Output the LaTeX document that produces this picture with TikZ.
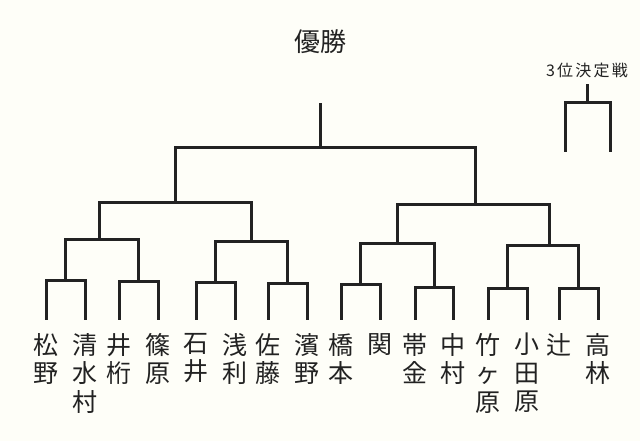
\documentclass[tikz,border=0pt]{standalone}
\usepackage{fontspec}
\setmainfont{Noto Sans CJK JP}
\usepackage{xcolor}
\usepackage{tikz}
\usetikzlibrary{positioning}
\definecolor{paper}{RGB}{254, 254, 248}
\definecolor{ink}{RGB}{34, 34, 34}

\begin{document}
\begin{tikzpicture}[
        x=1pt, y=-1pt,
        bar/.style={draw=ink, line width=3pt, line cap=rect},
        player/.style={anchor=north, inner sep=0pt, align=center, text=ink,
                       font=\fontsize{25}{28.5}\selectfont},
        title/.style={inner sep=0pt, text=ink, font=\fontsize{26}{30}\selectfont},
        subtitle/.style={inner sep=0pt, text=ink,
                         font=\fontsize{16}{20}\selectfont\addfontfeatures{LetterSpace=14}}
      ]
        \fill[paper] (0,0) rectangle (640,441);
        \useasboundingbox (0,0) rectangle (640,441);
        % players
        \node[player] (p1) at (46,333) {松\\野};
        \node[player] (p2) at (85,333) {清\\水\\村};
        \node[player] (p3) at (119,333) {井\\桁};
        \node[player] (p4) at (158,333) {篠\\原};
        \node[player] (p5) at (196,333) {石\\井};
        \node[player] (p6) at (235,333) {浅\\利};
        \node[player] (p7) at (268,333) {佐\\藤};
        \node[player] (p8) at (307,333) {濱\\野};
        \node[player] (p9) at (341,333) {橋\\本};
        \node[player] (p10) at (380,333) {関};
        \node[player] (p11) at (415,333) {帯\\金};
        \node[player] (p12) at (453,333) {中\\村};
        \node[player] (p13) at (488,333) {竹\\ヶ\\原};
        \node[player] (p14) at (527,333) {小\\田\\原};
        \node[player] (p15) at (559,333) {辻};
        \node[player] (p16) at (598,333) {高\\林};
        \node[title] (win) at (320,42) {優勝};
        \node[subtitle] (third) at (587,70) {3位決定戦};
        % match points
        \coordinate (a1) at (65.5,280);
        \coordinate (a2) at (138.5,281);
        \coordinate (a3) at (215.5,282);
        \coordinate (a4) at (287.5,283);
        \coordinate (a5) at (360.5,284);
        \coordinate (a6) at (434,287);
        \coordinate (a7) at (507.5,288);
        \coordinate (a8) at (578.5,288);
        \coordinate (b1) at (99,239);
        \coordinate (b2) at (251,241);
        \coordinate (b3) at (397,243);
        \coordinate (b4) at (549,245);
        \coordinate (c1) at (175,202);
        \coordinate (c2) at (475,204);
        \coordinate (d) at (320,148);
        \coordinate (top) at (320,105);
        \coordinate (t3) at (587.5,103);
        \coordinate (t3top) at (587.5,86);
        \coordinate (t3l) at (565,151);
        \coordinate (t3r) at (610,151);
        % first round
        \draw[bar] ([yshift=15pt]p1.north) |- (a1) -| ([yshift=15pt]p2.north);
        \draw[bar] ([yshift=15pt]p3.north) |- (a2) -| ([yshift=15pt]p4.north);
        \draw[bar] ([yshift=15pt]p5.north) |- (a3) -| ([yshift=15pt]p6.north);
        \draw[bar] ([yshift=15pt]p7.north) |- (a4) -| ([yshift=15pt]p8.north);
        \draw[bar] ([yshift=15pt]p9.north) |- (a5) -| ([yshift=15pt]p10.north);
        \draw[bar] ([yshift=15pt]p11.north) |- (a6) -| ([yshift=15pt]p12.north);
        \draw[bar] ([yshift=15pt]p13.north) |- (a7) -| ([yshift=15pt]p14.north);
        \draw[bar] ([yshift=15pt]p15.north) |- (a8) -| ([yshift=15pt]p16.north);
        % second round
        \draw[bar] (a1) |- (b1) -| (a2);
        \draw[bar] (a3) |- (b2) -| (a4);
        \draw[bar] (a5) |- (b3) -| (a6);
        \draw[bar] (a7) |- (b4) -| (a8);
        % semi-finals and final
        \draw[bar] (b1) |- (c1) -| (b2);
        \draw[bar] (b3) |- (c2) -| (b4);
        \draw[bar] (c1) |- (d) -| (c2);
        \draw[bar] (d) -- (top);
        % third place
        \draw[bar] (t3l) |- (t3) -| (t3r);
        \draw[bar] (t3) -- (t3top);
      \end{tikzpicture}
\end{document}
